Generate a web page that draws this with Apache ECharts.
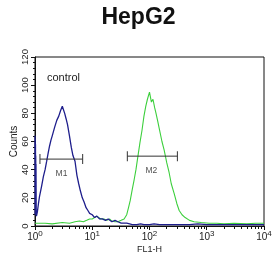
<!DOCTYPE html>
<html>
<head>
<meta charset="utf-8">
<script src="https://cdn.jsdelivr.net/npm/echarts@6/dist/echarts.min.js"></script>
<style>
  html, body { margin: 0; padding: 0; background: #fff; }
  #chart { width: 277px; height: 256px; }
</style>
</head>
<body>
<div id="chart"></div>
<script>
// 对照组 (蓝) 直方图
const blueX = [1, 1.005, 1.01, 1.015, 1.02, 1.025, 1.03, 1.035, 1.04, 1.05, 1.06, 1.1, 1.15, 1.2, 1.3, 1.4, 1.5, 1.6, 1.7, 1.8, 1.9, 2.0, 2.2, 2.4, 2.6, 2.8, 3.0, 3.1, 3.3, 3.5, 3.7, 4.0, 4.3, 4.6, 5.0, 5.4, 5.8, 6.2, 6.7, 7.2, 7.8, 8.4, 9, 10, 11, 12, 13.5, 15, 17, 19, 22, 25, 28, 32, 36, 40, 45, 50, 60, 70, 80, 100, 120, 150, 200, 300, 500, 700, 1000, 2000, 3000, 5000, 10000];
const blueY = [64, 8, 62, 12, 58, 9, 50, 14, 44, 10, 7, 10, 16, 21, 28, 35, 40, 46, 52, 57, 61, 64, 70, 75, 78, 82, 85, 86, 80, 76, 72, 64, 56, 50, 46, 36, 30, 25, 20, 17, 13, 11, 9, 8, 6, 7, 5, 5, 4, 5, 3, 4, 3, 2, 2, 2, 1.5, 1, 1, 1.5, 1, 1, 1.5, 1, 1, 1, 1, 1.5, 1, 1, 1, 1, 1];
// 样本 (绿) 直方图
const greenX = [1, 1.5, 2, 3, 4, 5, 6, 7, 8, 9, 10, 11, 12, 13, 14, 16, 18, 20, 22, 25, 28, 32, 36, 40, 43, 46, 50, 54, 58, 63, 68, 74, 80, 86, 92, 100, 108, 115, 123, 130, 140, 150, 165, 180, 200, 220, 240, 270, 300, 330, 370, 420, 500, 600, 800, 1100, 1500, 2000, 3000, 5000, 7000, 10000];
const greenY = [2, 2, 1.5, 2.5, 2, 3, 3.5, 3, 4, 5, 5, 6, 7, 6, 5, 5, 4, 5, 3.5, 3, 3, 4, 5, 8, 13, 18, 26, 33, 40, 50, 59, 68, 78, 85, 90, 95, 88, 90, 84, 80, 74, 68, 60, 54, 45, 38, 30, 23, 16, 11, 8, 6, 4, 3, 2.5, 2, 2, 1.5, 2, 1.5, 2, 2];
// 门控区间 M1 / M2
const gateNames = ["M1", "M2"];
const gateFrom = [1.22, 41];
const gateTo = [6.8, 307];
const gateY = [47.5, 49.6];
const gateLabelX = [2.9, 108];
const gateLabelY = [37.5, 39];
// 刻度
const xMinor = [];
[1, 10, 100, 1000].forEach(d => { [2, 3, 4, 5, 6, 7, 8, 9].forEach(m => xMinor.push(d * m)); });

const font = "Arial, 'Liberation Sans', sans-serif";
const pairs = (xs, ys) => xs.map((x, i) => [x, ys[i]]);

const chart = echarts.init(document.getElementById("chart"));
const gateSeries = gateNames.map((n, i) => ({
  type: "line",
  data: [[gateFrom[i], gateY[i]], [gateTo[i], gateY[i]]],
  lineStyle: { color: "#333", width: 1 },
  symbol: "rect",
  symbolSize: [1, 10],
  itemStyle: { color: "#333" },
  silent: true,
  z: 5,
}));

chart.setOption({
  animation: false,
  title: {
    text: "HepG2",
    left: "center",
    top: 1,
    textStyle: { fontFamily: font, fontSize: 23, fontWeight: "bold", color: "#111" },
  },
  grid: {
    left: 35, right: 13, top: 57, bottom: 30,
    outerBoundsMode: "none",
    show: true, borderColor: "#111", borderWidth: 1,
  },
  xAxis: [
    {
      type: "log",
      logBase: 10,
      min: 1,
      max: 10000,
      name: "FL1-H",
      nameLocation: "middle",
      nameGap: 19,
      nameMoveOverlap: false,
      nameTextStyle: { fontFamily: font, fontSize: 9, color: "#222" },
      axisLine: { lineStyle: { color: "#111", width: 1 } },
      axisTick: { show: true, length: 4, lineStyle: { color: "#111" } },
      splitLine: { show: false },
      axisLabel: {
        margin: 4,
        fontFamily: font,
        fontSize: 10,
        color: "#222",
        formatter: v => "10{s|" + Math.round(Math.log10(v)) + "}",
        rich: { s: { fontSize: 8, verticalAlign: "top", padding: [0, 0, 6, 0], fontFamily: font, color: "#222" } },
      },
    },
    {
      type: "log",
      logBase: 10,
      min: 1,
      max: 10000,
      position: "bottom",
      axisLine: { show: false },
      axisLabel: { show: false },
      splitLine: { show: false },
      axisTick: { show: true, length: 3, customValues: xMinor, lineStyle: { color: "#111" } },
    },
  ],
  yAxis: {
    type: "value",
    min: 0,
    max: 120,
    interval: 20,
    name: "Counts",
    nameLocation: "middle",
    nameGap: 16,
    nameMoveOverlap: false,
    nameRotate: 90,
    nameTextStyle: { fontFamily: font, fontSize: 10, color: "#222" },
    axisLine: { show: true, lineStyle: { color: "#111", width: 1 } },
    axisTick: { show: true, length: 4, lineStyle: { color: "#111" } },
    minorTick: { show: true, splitNumber: 5, length: 2, lineStyle: { color: "#111" } },
    splitLine: { show: false },
    axisLabel: { rotate: 90, margin: 5, fontFamily: font, fontSize: 9.5, color: "#222" },
  },
  graphic: [
    { type: "text", left: 47, top: 72, style: { text: "control", fontFamily: font, fontSize: 11, fill: "#222" } },
  ],
  series: [
    {
      type: "line",
      data: pairs(greenX, greenY),
      symbol: "none",
      lineStyle: { color: "#3ccf3c", width: 1.1 },
      z: 3,
    },
    {
      type: "line",
      data: pairs(blueX, blueY),
      symbol: "none",
      lineStyle: { color: "#1e1e8c", width: 1.3 },
      z: 4,
    },
    ...gateSeries,
    {
      type: "scatter",
      data: gateNames.map((n, i) => ({ name: n, value: [gateLabelX[i], gateLabelY[i]] })),
      symbolSize: 0,
      label: { show: true, position: "inside", formatter: "{b}", fontFamily: font, fontSize: 8.5, color: "#222" },
      silent: true,
      z: 6,
    },
  ],
});
</script>
</body>
</html>
